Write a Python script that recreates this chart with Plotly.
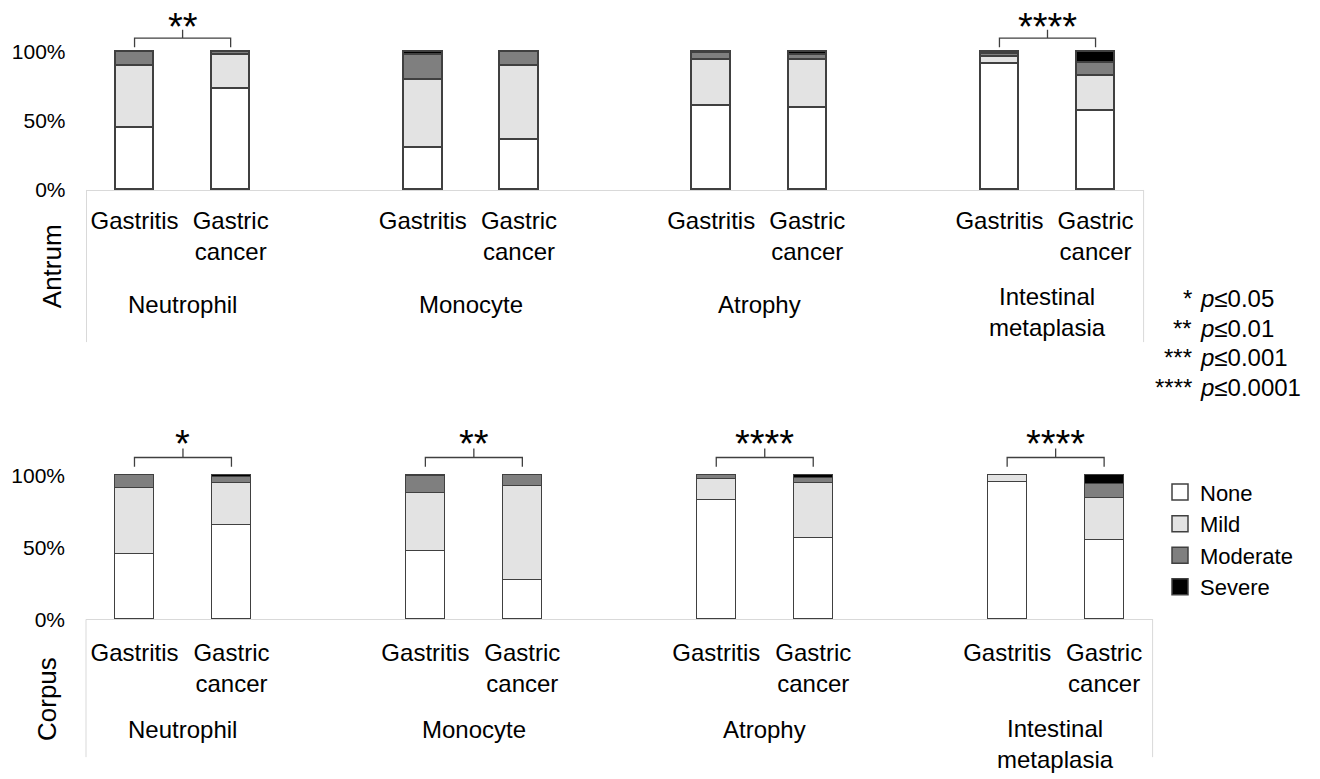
import plotly.graph_objects as go

# Histological features and patient groups
features = ["Neutrophil", "Monocyte", "Atrophy", "Intestinal<br>metaplasia"]
groups = ["Gastritis", "Gastric<br>cancer"]
grades = ["None", "Mild", "Moderate", "Severe"]
grade_colors = ["#ffffff", "#e3e3e3", "#7f7f7f", "#000000"]

# Percent of patients per grade; order of each list:
# Neutrophil (Gastritis, Gastric cancer), Monocyte (...), Atrophy (...), Intestinal metaplasia (...)
antrum_none = [45.5, 73.4, 30.7, 36.2, 61.2, 59.6, 91.9, 57.4]
antrum_mild = [44.5, 25.0, 49.6, 54.3, 33.3, 34.7, 5.0, 25.5]
antrum_moderate = [10.0, 1.6, 18.0, 9.5, 5.0, 3.9, 1.9, 9.5]
antrum_severe = [0.0, 0.0, 1.7, 0.0, 0.5, 1.8, 1.2, 7.6]

corpus_none = [44.9, 65.0, 47.0, 26.9, 82.9, 56.6, 95.4, 55.2]
corpus_mild = [46.2, 29.5, 40.7, 65.6, 14.1, 37.7, 4.6, 28.8]
corpus_moderate = [8.9, 4.1, 11.4, 7.5, 3.0, 3.9, 0.0, 9.6]
corpus_severe = [0.0, 1.4, 0.9, 0.0, 0.0, 1.8, 0.0, 6.4]

# Significance of Gastritis vs Gastric cancer per feature
antrum_sig = ["**", "", "", "****"]
corpus_sig = ["*", "**", "****", "****"]

p_levels = ["*", "**", "***", "****"]
p_thresholds = ["0.05", "0.01", "0.001", "0.0001"]

y_ticks = [0, 50, 100]

FONT = "Liberation Sans, Arial, sans-serif"
W, H = 1320, 779
EDGE = "#404040"

# Bars sit on slots 0,1 | 3,4 | 6,7 | 9,10 (one empty slot between features)
bar_x = [3 * g + i for g in range(len(features)) for i in range(len(groups))]
group_x = [3 * g + 0.5 for g in range(len(features))]

panels = [
    dict(name="Antrum", xa="x", ya="y",
         values=[antrum_none, antrum_mild, antrum_moderate, antrum_severe],
         sig=antrum_sig, ymax=130, br_low=103.4, br_mid=110, br_top=116, star=122,
         x_dom=(86.5, 1143.6), y_px=(192.7, 10.7), vline_end=347,
         feat_y=309, side_x=52, side_y=270, standoff=9),
    dict(name="Corpus", xa="x2", ya="y2",
         values=[corpus_none, corpus_mild, corpus_moderate, corpus_severe],
         sig=corpus_sig, ymax=132, br_low=106, br_mid=112.5, br_top=118.7, star=125.5,
         x_dom=(86.0, 1152.6), y_px=(628.3, 435.6), vline_end=768,
         feat_y=740, side_x=47, side_y=709, standoff=12),
]

fig = go.Figure()
shapes, annotations = [], []
layout_axes = {}

for k, p in enumerate(panels):
    for grade, color, vals in zip(grades, grade_colors, p["values"]):
        fig.add_trace(go.Bar(
            x=bar_x, y=vals, name=grade, width=0.4,
            marker=dict(color=color, line=dict(color=EDGE, width=1.5)),
            xaxis=p["xa"], yaxis=p["ya"], showlegend=False,
        ))

    xkey = "xaxis" if k == 0 else "xaxis2"
    ykey = "yaxis" if k == 0 else "yaxis2"
    layout_axes[xkey] = dict(
        domain=[p["x_dom"][0] / W, p["x_dom"][1] / W], range=[-0.5, 10.5],
        anchor=p["ya"], showgrid=False, zeroline=False,
        showline=True, linecolor="#d9d9d9", linewidth=1,
        tickvals=bar_x, ticktext=groups * len(features), ticks="",
        tickfont=dict(family=FONT, size=24, color="#000"),
        ticklabelstandoff=p["standoff"], fixedrange=True,
    )
    layout_axes[ykey] = dict(
        domain=[(H - p["y_px"][0]) / H, (H - p["y_px"][1]) / H],
        range=[0, p["ymax"]], anchor=p["xa"],
        tickvals=y_ticks, ticktext=[f"{v}%" for v in y_ticks], ticks="",
        showgrid=False, zeroline=False, showline=False,
        tickfont=dict(family=FONT, size=21, color="#000"),
        ticklabelstandoff=20, fixedrange=True,
    )

    # light frame lines below the category axis
    for xd in (0, 1):
        shapes.append(dict(
            type="line", xref=f"{p['xa']} domain", yref="paper",
            x0=xd, x1=xd, y0=(H - p["y_px"][0]) / H, y1=(H - p["vline_end"]) / H,
            line=dict(color="#d9d9d9", width=1),
        ))

    # feature names under each pair of bars
    for gx, feat in zip(group_x, features):
        annotations.append(dict(
            text=feat, xref=p["xa"], yref="paper", x=gx, y=(H - p["feat_y"]) / H,
            xanchor="center", yanchor="middle", showarrow=False,
            yshift=(-7 if "<br>" in feat else 0) if k == 0 else (-14 if "<br>" in feat else 0),
            font=dict(family=FONT, size=24, color="#000"),
        ))

    # region label
    annotations.append(dict(
        text=p["name"], xref="paper", yref="paper",
        x=p["side_x"] / W, y=(H - p["side_y"]) / H, textangle=-90,
        xanchor="center", yanchor="middle", showarrow=False,
        font=dict(family=FONT, size=26, color="#000"),
    ))

    # significance brackets
    for g, s in enumerate(p["sig"]):
        if not s:
            continue
        x0, x1 = bar_x[2 * g], bar_x[2 * g + 1]
        xm = (x0 + x1) / 2
        shapes.append(dict(
            type="path", xref=p["xa"], yref=p["ya"],
            path=(f"M{x0},{p['br_low']} L{x0},{p['br_mid']} L{x1},{p['br_mid']} "
                  f"L{x1},{p['br_low']} M{xm},{p['br_mid']} L{xm},{p['br_top']}"),
            line=dict(color=EDGE, width=1.3),
        ))
        annotations.append(dict(
            text=s, xref=p["xa"], yref=p["ya"], x=xm, y=p["star"],
            xanchor="center", yanchor="middle", yshift=-5, showarrow=False,
            font=dict(family=FONT, size=38, color="#000"),
        ))

# legend keys for the four grades
for grade, color in zip(grades, grade_colors):
    fig.add_trace(go.Scatter(
        x=[None], y=[None], mode="markers", name=grade,
        marker=dict(symbol="square", size=16, color=color,
                    line=dict(color=EDGE, width=1.5)),
        xaxis="x2", yaxis="y2", showlegend=True, hoverinfo="skip",
    ))

# p-value key
for i, (stars, thr) in enumerate(zip(p_levels, p_thresholds)):
    yy = (H - (303 + 30 * i)) / H
    annotations.append(dict(
        text=stars, xref="paper", yref="paper", x=1194 / W, y=yy,
        xanchor="right", yanchor="middle", showarrow=False,
        font=dict(family=FONT, size=24, color="#000"),
    ))
    annotations.append(dict(
        text=f"<i>p</i>≤{thr}", xref="paper", yref="paper", x=1198 / W, y=yy,
        xanchor="left", yanchor="middle", showarrow=False,
        font=dict(family=FONT, size=24, color="#000"),
    ))

fig.update_layout(
    width=W, height=H, margin=dict(l=0, r=0, t=0, b=0),
    paper_bgcolor="white", plot_bgcolor="white",
    barmode="stack", bargap=0,
    shapes=shapes, annotations=annotations,
    legend=dict(
        x=1160 / W, y=(H - 478) / H, xanchor="left", yanchor="top",
        traceorder="normal", tracegroupgap=0, bgcolor="rgba(0,0,0,0)",
        font=dict(family=FONT, size=22, color="#000"),
        itemclick=False, itemdoubleclick=False,
    ),
    font=dict(family=FONT, color="#000"),
    **layout_axes,
)

fig.write_html("out.html")
